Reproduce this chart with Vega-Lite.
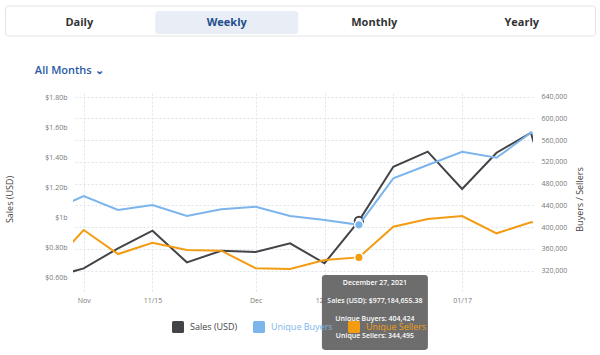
{
  "$schema": "https://vega.github.io/schema/vega-lite/v6.json",
  "padding": {"left": 5, "top": 5, "right": 5, "bottom": 0},
  "background": "white",
  "spacing": 27,
  "resolve": {"legend": {"color": "independent"}},
  "config": {"font": "Open Sans", "view": {"stroke": null}},
  "datasets": {
    "tabs": [
      {"tab": "Daily", "selected": false},
      {"tab": "Weekly", "selected": true},
      {"tab": "Monthly", "selected": false},
      {"tab": "Yearly", "selected": false}
    ],
    "series": [
      {"date": "2021-10-25", "series": "Sales (USD)", "value": 597000000},
      {"date": "2021-11-01", "series": "Sales (USD)", "value": 662000000},
      {"date": "2021-11-08", "series": "Sales (USD)", "value": 795000000},
      {"date": "2021-11-15", "series": "Sales (USD)", "value": 912000000},
      {"date": "2021-11-22", "series": "Sales (USD)", "value": 702000000},
      {"date": "2021-11-29", "series": "Sales (USD)", "value": 779000000},
      {"date": "2021-12-06", "series": "Sales (USD)", "value": 771000000},
      {"date": "2021-12-13", "series": "Sales (USD)", "value": 828000000},
      {"date": "2021-12-20", "series": "Sales (USD)", "value": 696000000},
      {"date": "2021-12-27", "series": "Sales (USD)", "value": 977184655.38},
      {"date": "2022-01-03", "series": "Sales (USD)", "value": 1337000000},
      {"date": "2022-01-10", "series": "Sales (USD)", "value": 1437000000},
      {"date": "2022-01-17", "series": "Sales (USD)", "value": 1189000000},
      {"date": "2022-01-24", "series": "Sales (USD)", "value": 1430000000},
      {"date": "2022-01-31", "series": "Sales (USD)", "value": 1563000000},
      {"date": "2022-02-07", "series": "Sales (USD)", "value": 760000000},
      {"date": "2021-10-25", "series": "Unique Buyers", "value": 428900},
      {"date": "2021-11-01", "series": "Unique Buyers", "value": 457400},
      {"date": "2021-11-08", "series": "Unique Buyers", "value": 431600},
      {"date": "2021-11-15", "series": "Unique Buyers", "value": 440800},
      {"date": "2021-11-22", "series": "Unique Buyers", "value": 420600},
      {"date": "2021-11-29", "series": "Unique Buyers", "value": 432900},
      {"date": "2021-12-06", "series": "Unique Buyers", "value": 437700},
      {"date": "2021-12-13", "series": "Unique Buyers", "value": 420600},
      {"date": "2021-12-20", "series": "Unique Buyers", "value": 413200},
      {"date": "2021-12-27", "series": "Unique Buyers", "value": 404424},
      {"date": "2022-01-03", "series": "Unique Buyers", "value": 489900},
      {"date": "2022-01-10", "series": "Unique Buyers", "value": 514400},
      {"date": "2022-01-17", "series": "Unique Buyers", "value": 538800},
      {"date": "2022-01-24", "series": "Unique Buyers", "value": 527800},
      {"date": "2022-01-31", "series": "Unique Buyers", "value": 573800},
      {"date": "2022-02-07", "series": "Unique Buyers", "value": 540000},
      {"date": "2021-10-25", "series": "Unique Sellers", "value": 325300},
      {"date": "2021-11-01", "series": "Unique Sellers", "value": 394800},
      {"date": "2021-11-08", "series": "Unique Sellers", "value": 350700},
      {"date": "2021-11-15", "series": "Unique Sellers", "value": 371500},
      {"date": "2021-11-22", "series": "Unique Sellers", "value": 358100},
      {"date": "2021-11-29", "series": "Unique Sellers", "value": 356800},
      {"date": "2021-12-06", "series": "Unique Sellers", "value": 324400},
      {"date": "2021-12-13", "series": "Unique Sellers", "value": 323100},
      {"date": "2021-12-20", "series": "Unique Sellers", "value": 339700},
      {"date": "2021-12-27", "series": "Unique Sellers", "value": 344495},
      {"date": "2022-01-03", "series": "Unique Sellers", "value": 400900},
      {"date": "2022-01-10", "series": "Unique Sellers", "value": 415100},
      {"date": "2022-01-17", "series": "Unique Sellers", "value": 420600},
      {"date": "2022-01-24", "series": "Unique Sellers", "value": 388800},
      {"date": "2022-01-31", "series": "Unique Sellers", "value": 409000},
      {"date": "2022-02-07", "series": "Unique Sellers", "value": 412000}
    ],
    "hover": [
      {"date": "2021-12-27", "series": "Sales (USD)", "value": 977184655.38},
      {"date": "2021-12-27", "series": "Unique Buyers", "value": 404424},
      {"date": "2021-12-27", "series": "Unique Sellers", "value": 344495}
    ],
    "tip": [
      {"date": "2021-12-27", "value": 344495, "label": "December 27, 2021\nSales (USD): $977,184,655.38\nUnique Buyers: 404,424\nUnique Sellers: 344,495"}
    ]
  },
  "vconcat": [
    {
      "width": 522,
      "height": 30,
      "data": {"name": "tabs"},
      "encoding": {
        "x": {"field": "tab", "type": "nominal", "axis": null, "scale": {"domain": ["Daily", "Weekly", "Monthly", "Yearly"], "range": [-67.5, 522.5], "paddingInner": 0, "paddingOuter": 0}},
        "y": {"datum": 0, "type": "quantitative", "axis": null, "scale": {"domain": [-1, 1]}}
      },
      "layer": [
        {
          "transform": [{"filter": "datum.tab == 'Daily'"}],
          "mark": {"type": "rect", "fill": "white", "stroke": "#e3e3e3", "strokeWidth": 1, "cornerRadius": 3},
          "encoding": {
            "x": {"datum": "Daily", "type": "nominal", "bandPosition": 0},
            "x2": {"datum": "Yearly", "bandPosition": 1},
            "y": {"datum": -1, "type": "quantitative"},
            "y2": {"datum": 1}
          }
        },
        {
          "transform": [{"filter": "datum.selected"}],
          "mark": {"type": "rect", "color": "#e8edf6", "cornerRadius": 3, "width": {"band": 0.97}, "height": 23, "yOffset": 1.5}
        },
        {
          "mark": {"type": "text", "fontSize": 11, "fontWeight": "bold", "baseline": "middle", "yOffset": 2},
          "encoding": {
            "text": {"field": "tab"},
            "color": {"condition": {"test": "datum.selected", "value": "#1f4e8c"}, "value": "#333333"}
          }
        }
      ]
    },
    {
      "width": 460,
      "height": 198,
      "title": {"text": "All Months ⌄", "anchor": "start", "frame": "bounds", "dx": 29, "offset": 17, "fontSize": 11, "fontWeight": 600, "color": "#2a5aa5"},
      "encoding": {
        "x": {
          "field": "date", "type": "temporal",
          "scale": {"type": "utc", "domain": [{"year": 2021, "month": 10, "date": 29, "hours": 20, "utc": true}, {"year": 2022, "month": 1, "date": 31, "hours": 10, "utc": true}]},
          "axis": {
            "title": null,
            "values": [
              {"year": 2021, "month": 11, "date": 1, "utc": true},
              {"year": 2021, "month": 11, "date": 15, "utc": true},
              {"year": 2021, "month": 12, "date": 6, "utc": true},
              {"year": 2021, "month": 12, "date": 20, "utc": true},
              {"year": 2022, "month": 1, "date": 3, "utc": true},
              {"year": 2022, "month": 1, "date": 17, "utc": true}
            ],
            "labelExpr": "utcFormat(datum.value, '%m/%d') == '11/01' ? 'Nov' : utcFormat(datum.value, '%m/%d') == '12/06' ? 'Dec' : utcFormat(datum.value, '%m/%d') == '01/03' ? '2022' : utcFormat(datum.value, '%m/%d')",
            "grid": true, "gridDash": [2, 2], "gridColor": "#dfe4ea",
            "domain": false, "ticks": false, "labelOverlap": false,
            "labelColor": "#777777", "labelFontSize": 7, "labelPadding": 5
          }
        }
      },
      "layer": [
        {
          "encoding": {
            "y": {
              "field": "value", "type": "quantitative",
              "scale": {"domain": [511700000, 1826600000], "nice": false, "zero": false},
              "axis": {
                "title": "Sales (USD)", "values": [600000000, 800000000, 1000000000, 1200000000, 1400000000, 1600000000, 1800000000],
                "labelExpr": "datum.value == 1000000000 ? '$1b' : '$' + format(datum.value / 1000000000, '.2f') + 'b'",
                "grid": false, "domain": false, "ticks": false, "labelOverlap": false,
                "labelColor": "#777777", "labelFontSize": 7, "labelPadding": 6,
                "titleColor": "#444444", "titleFontSize": 9, "titleFontWeight": "normal", "titlePadding": 30, "titleY": 106
              }
            }
          },
          "layer": [
            {
              "data": {"name": "series"},
              "transform": [{"filter": "datum.series == 'Sales (USD)'"}],
              "mark": {"type": "line", "strokeWidth": 2, "clip": true},
              "encoding": {
                "color": {
                  "field": "series", "type": "nominal",
                  "scale": {"domain": ["Sales (USD)", "Unique Buyers", "Unique Sellers"], "range": ["#434348", "#7cb5ec", "#f39c12"]},
                  "legend": {
                    "orient": "none", "legendX": 99, "legendY": 228, "direction": "horizontal", "title": null,
                    "symbolType": "M-0.75,-1 H0.75 Q1,-1 1,-0.75 V0.75 Q1,1 0.75,1 H-0.75 Q-1,1 -1,0.75 V-0.75 Q-1,-1 -0.75,-1 Z",
                    "symbolSize": 144, "symbolStrokeWidth": 0,
                    "labelFontSize": 9, "labelOffset": 6, "columnPadding": 15, "zindex": 0,
                    "encode": {
                      "symbols": {"update": {"fill": {"scale": "color", "field": "value"}, "fillOpacity": {"value": 1}, "strokeWidth": {"value": 0}}},
                      "labels": {"update": {"fill": {"scale": "color", "field": "value"}}}
                    }
                  }
                }
              }
            },
            {
              "data": {"name": "hover"},
              "transform": [{"filter": "datum.series == 'Sales (USD)'"}],
              "mark": {"type": "point", "filled": true, "fill": "white", "stroke": "#434348", "strokeWidth": 2, "size": 70, "opacity": 1}
            }
          ]
        },
        {
          "encoding": {
            "y": {
              "field": "value", "type": "quantitative",
              "scale": {"domain": [282700, 646800], "nice": false, "zero": false},
              "axis": {
                "orient": "right", "title": "Buyers / Sellers",
                "values": [320000, 360000, 400000, 440000, 480000, 520000, 560000, 600000, 640000],
                "labelExpr": "format(datum.value, ',')", "grid": true, "gridDash": [2, 2], "gridColor": "#dfe4ea",
                "domain": false, "ticks": false, "labelOverlap": false,
                "labelColor": "#777777", "labelFontSize": 7, "labelPadding": 8,
                "titleColor": "#444444", "titleFontSize": 9, "titleFontWeight": "normal", "titleAngle": 270, "titleBaseline": "top", "titlePadding": 9, "titleY": 106
              }
            }
          },
          "layer": [
            {
              "data": {"name": "series"},
              "transform": [{"filter": "datum.series != 'Sales (USD)'"}],
              "mark": {"type": "line", "strokeWidth": 2, "clip": true},
              "encoding": {
                "color": {"field": "series", "type": "nominal"}
              }
            },
            {
              "data": {"name": "hover"},
              "transform": [{"filter": "datum.series != 'Sales (USD)'"}],
              "mark": {"type": "point", "filled": true, "size": 75, "stroke": "white", "strokeWidth": 1.5, "opacity": 1},
              "encoding": {
                "color": {"field": "series", "type": "nominal"}
              }
            },
            {
              "data": {"name": "tip"},
              "mark": {"type": "point", "shape": "M-0.94,-0.7075 H0.94 Q1,-0.7075 1,-0.65 V0.65 Q1,0.7075 0.94,0.7075 H-0.94 Q-1,0.7075 -1,0.65 V-0.65 Q-1,-0.7075 -0.94,-0.7075 Z", "size": 11236, "filled": true, "color": "#545454", "opacity": 0.85, "strokeWidth": 0, "xOffset": 16, "yOffset": 55, "clip": false}
            },
            {
              "data": {"name": "tip"},
              "mark": {"type": "text", "lineBreak": "\n", "lineHeight": 17.6, "fontSize": 7, "fontWeight": 600, "color": "white", "align": "center", "baseline": "middle", "xOffset": 16, "yOffset": 26},
              "encoding": {
                "text": {"field": "label"}
              }
            }
          ]
        }
      ],
      "resolve": {"scale": {"y": "independent"}}
    }
  ]
}
